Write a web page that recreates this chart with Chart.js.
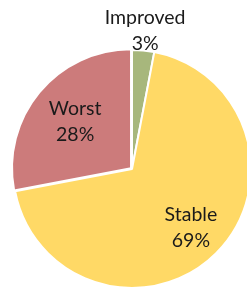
<!DOCTYPE html>
<html lang="en">
<head>
    <meta charset="UTF-8">
    <title>Pie</title>
    <script src="https://cdn.jsdelivr.net/npm/chart.js"></script>
    <style>
        html, body { margin: 0; padding: 0; background: #fff; }
        #wrap { width: 247px; height: 289px; }
    </style>
</head>
<body>
    <div id="wrap"><canvas id="myChart"></canvas></div>
    <script>
        const labels = ['Improved', 'Stable', 'Worst'];
        const percents = [3, 69, 28];

        const colors = ['#A7B77C', '#FFD966', '#CC7B7B'];
        // where each label sits, as a fraction of the radius along the slice middle
        const labelDist = [1.17, 0.70, 0.62];

        const sliceLabels = {
            id: 'sliceLabels',
            afterDatasetsDraw(chart) {
                const ctx = chart.ctx;
                const arcs = chart.getDatasetMeta(0).data;
                ctx.save();
                ctx.font = '19.5px Lato';
                ctx.fillStyle = '#1a1a1a';
                ctx.textAlign = 'center';
                ctx.textBaseline = 'middle';
                arcs.forEach((arc, i) => {
                    const p = arc.getProps(['x', 'y', 'startAngle', 'endAngle', 'outerRadius']);
                    const mid = (p.startAngle + p.endAngle) / 2;
                    const d = p.outerRadius * labelDist[i];
                    const x = p.x + Math.cos(mid) * d;
                    const y = p.y + Math.sin(mid) * d;
                    ctx.fillText(labels[i], x, y - 13);
                    ctx.fillText(percents[i] + '%', x, y + 13);
                });
                ctx.restore();
            }
        };

        const ctx = document.getElementById('myChart').getContext('2d');
        const myChart = new Chart(ctx, {
            type: 'pie',
            data: {
                labels: labels,
                datasets: [{
                    data: percents,
                    backgroundColor: colors,
                    borderColor: '#ffffff',
                    borderWidth: 2,
                    offset: [0, 0, 5],
                    clip: false
                }]
            },
            options: {
                responsive: true,
                maintainAspectRatio: false,
                animation: false,
                radius: 119,
                layout: { padding: { left: 17, right: 0, top: 49, bottom: 0 } },
                plugins: {
                    legend: { display: false },
                    tooltip: { enabled: false }
                }
            },
            plugins: [sliceLabels]
        });
    </script>
</body>
</html>
